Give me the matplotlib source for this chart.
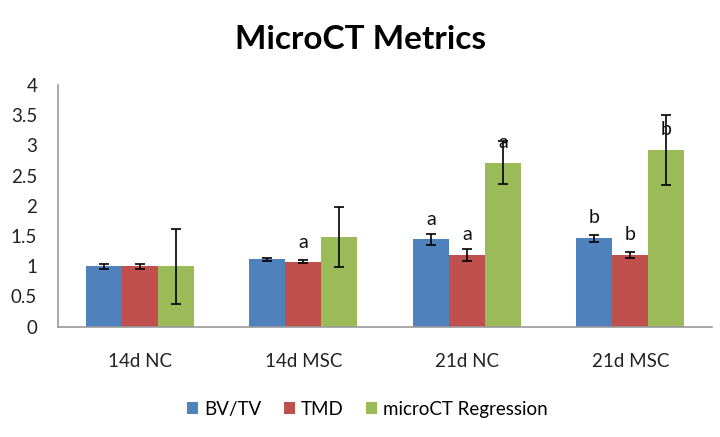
import matplotlib
matplotlib.use("Agg")
import matplotlib.pyplot as plt
import numpy as np

plt.rcParams['font.family'] = ['Lato', 'DejaVu Sans']

categories = ["14d NC", "14d MSC", "21d NC", "21d MSC"]
series = ["BV/TV", "TMD", "microCT Regression"]
bvtv = [1.00, 1.115, 1.447, 1.46]
bvtv_err = [0.04, 0.02, 0.09, 0.05]
tmd = [1.00, 1.076, 1.18, 1.18]
tmd_err = [0.04, 0.02, 0.10, 0.05]
reg = [1.00, 1.48, 2.715, 2.92]
reg_err = [0.62, 0.50, 0.35, 0.58]
# significance letters: (series index, category index, letter, y)
letters = [(1, 1, "a", 1.39), (0, 2, "a", 1.78), (1, 2, "a", 1.52), (2, 2, "a", 3.05),
           (0, 3, "b", 1.80), (1, 3, "b", 1.52), (2, 3, "b", 3.26)]

colors = ["#4F81BD", "#C0504D", "#9BBB59"]

fig = plt.figure(figsize=(7.2, 4.37), dpi=100)
ax = fig.add_axes([0.0806, 0.2524, 0.9084, 0.5531])

x = np.arange(len(categories))
w = 0.22
vals = [bvtv, tmd, reg]
errs = [bvtv_err, tmd_err, reg_err]
for i, (v, e, c, s) in enumerate(zip(vals, errs, colors, series)):
    ax.bar(x + (i - 1) * w, v, w, color=c, label=s, zorder=2)
    ax.errorbar(x + (i - 1) * w, v, yerr=e, fmt='none', ecolor='black',
                elinewidth=1.2, capsize=3.5, capthick=1.2, zorder=3)

for si, ci, t, y in letters:
    ax.text(ci + (si - 1) * w, y, t, ha='center', va='center', fontsize=14, color='#111111', zorder=4)

ax.set_xlim(-0.5, 3.5)
ax.set_ylim(0, 4)
ax.set_yticks([0, 0.5, 1, 1.5, 2, 2.5, 3, 3.5, 4])
ax.set_yticklabels(["0", "0.5", "1", "1.5", "2", "2.5", "3", "3.5", "4"])
ax.set_xticks(x)
ax.set_xticklabels(categories)
ax.tick_params(axis='both', length=0, labelsize=13.5, colors='#222222')
ax.tick_params(axis='x', pad=19, labelsize=13.5)
ax.tick_params(axis='y', pad=15)
for sp in ['top', 'right']:
    ax.spines[sp].set_visible(False)
for sp in ['left', 'bottom']:
    ax.spines[sp].set_color('#999999')
    ax.spines[sp].set_linewidth(1.2)

fig.text(0.501, 0.91, "MicroCT Metrics", ha='center', va='center', fontsize=24, fontweight='bold')
fig.legend(loc='center', bbox_to_anchor=(0.51, 0.064), ncol=3, frameon=False,
           fontsize=13.5, handlelength=0.6, handleheight=0.6, handletextpad=0.3, columnspacing=1.2)

fig.savefig("out.png", dpi=100)
